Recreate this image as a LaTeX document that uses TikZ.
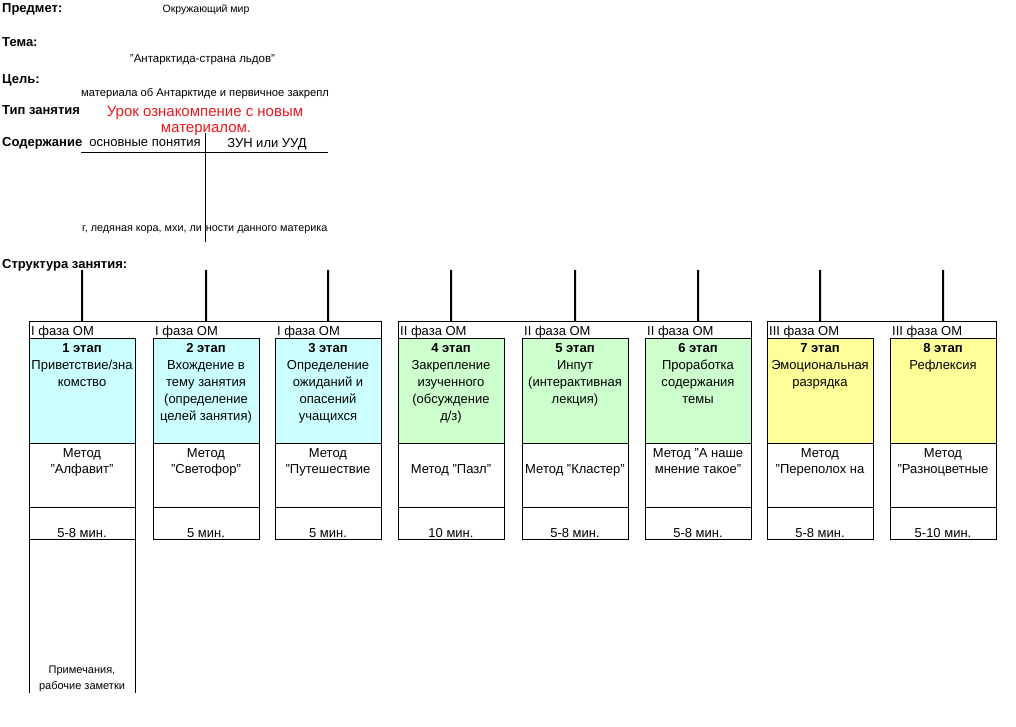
\documentclass[tikz,border=0pt]{standalone}
\usepackage{fontspec}
\setmainfont{Liberation Sans}
\definecolor{cyanbg}{HTML}{CCFFFF}
\definecolor{greenbg}{HTML}{CCFFCC}
\definecolor{yellowbg}{HTML}{FFFF99}
\definecolor{redtxt}{HTML}{E8191E}
\newcommand\stagecell[8]{%
  \node[hdrcell] (h#1) at (#2,321) {};
  \node[phasetxt] (p#1) at (#2+2,335.5) {#3};
  \node[cell, fill=#4, minimum height=105pt] (b#1) at (#2,338) {};
  \node[cell, minimum height=64pt] (m#1) at (#2,443) {};
  \node[cell, minimum height=32pt] (d#1) at (#2,507) {};
  \node[boxtxt] (bt#1) at (#2+53,343.5) {#5};
  \node[boxtxt, font=\fontsize{13}{16}\selectfont] (mt#1) at (#2+53,#8) {#6};
  \node[boxtxt, anchor=base] (dt#1) at (#2+53,537) {#7};
  \coordinate (c#1) at (#2+53,270);
  \draw[conn] (c#1) -- (h#1.north);
}
\begin{document}
\begin{tikzpicture}[x=1pt,y=-1pt,
  lbl/.style={font=\fontsize{13}{16}\selectfont\bfseries, anchor=base west, inner sep=0},
  smalltxt/.style={font=\fontsize{10.5}{13}\selectfont, inner sep=0, anchor=base},
  midtxt/.style={font=\fontsize{13}{16}\selectfont, inner sep=0, anchor=base},
  redt/.style={font=\fontsize{15}{19}\selectfont, text=redtxt, inner sep=0, anchor=base},
  boxtxt/.style={font=\fontsize{13}{17}\selectfont, align=center, inner sep=0, anchor=north},
  phasetxt/.style={font=\fontsize{13}{16}\selectfont, inner sep=0, anchor=base west},
  cell/.style={draw, line width=0.8pt, inner sep=0, minimum width=106pt, anchor=north west},
  hdrcell/.style={inner sep=0, minimum width=106pt, minimum height=17pt, anchor=north west},
  conn/.style={line width=2pt},
  thin/.style={line width=0.8pt}]
\path[use as bounding box, fill=white] (0,0) rectangle (1016,727);

% header labels
\node[lbl] (predmet) at (2,13) {Предмет:};
\node[lbl] (tema) at (2,47) {Тема:};
\node[lbl] (tsel) at (2,83.5) {Цель:};
\node[lbl] (tip) at (2,115) {Тип занятия};
\begin{scope}
  \clip (0,120) rectangle (81,160);
  \node[lbl] (soder) at (2,147) {Содержание};
\end{scope}
\node[lbl] (struct) at (2,268) {Структура занятия:};

\node[smalltxt] (predv) at (206,12.5) {Окружающий мир};
\node[smalltxt, font=\fontsize{11.5}{13}\selectfont] (temav) at (202.5,62.5) {"Антарктида-страна льдов"};
\begin{scope}
  \clip (81,80) rectangle (328,105);
  \node[smalltxt, anchor=base west, font=\fontsize{11.2}{13}\selectfont] (tselv) at (81,97) {материала об Антарктиде и первичное закрепление};
\end{scope}
\node[redt] (red1) at (205,116.5) {Урок ознакомпение с новым};
\node[redt] (red2) at (206,132.5) {материалом.};
\node[midtxt] (osn) at (145,147) {основные понятия};
\node[midtxt] (zun) at (267,147.5) {ЗУН или УУД};
\coordinate (hl1) at (81,152);
\coordinate (hl2) at (328,152);
\draw[thin] (hl1) -- (hl2);
\begin{scope}
  \clip (81,215) rectangle (328,240);
  \node[smalltxt, anchor=base west, font=\fontsize{10.8}{13}\selectfont] (sodv) at (82,231.5) {г, ледяная кора, мхи, ли\hspace{4pt}ности данного материка};
\end{scope}
\coordinate (vl1) at (205,133);
\coordinate (vl2) at (205,242);
\draw[thin] (vl1) -- (vl2);

% stages
\stagecell{1}{29}{I фаза ОМ}{cyanbg}{\textbf{1 этап}\\Приветствие/зна\\комство}{Метод\\"Алфавит"}{5-8 мин.}{448}
\stagecell{2}{153}{I фаза ОМ}{cyanbg}{\textbf{2 этап}\\Вхождение в\\тему занятия\\(определение\\целей занятия)}{Метод\\"Светофор"}{5 мин.}{448}
\stagecell{3}{275}{I фаза ОМ}{cyanbg}{\textbf{3 этап}\\Определение\\ожиданий и\\опасений\\учащихся}{Метод\\"Путешествие}{5 мин.}{448}
\stagecell{4}{398}{II фаза ОМ}{greenbg}{\textbf{4 этап}\\Закрепление\\изученного\\(обсуждение\\д/з)}{Метод "Пазл"}{10 мин.}{464}
\stagecell{5}{522}{II фаза ОМ}{greenbg}{\textbf{5 этап}\\Инпут\\(интерактивная\\лекция)}{Метод "Кластер"}{5-8 мин.}{464}
\stagecell{6}{645}{II фаза ОМ}{greenbg}{\textbf{6 этап}\\Проработка\\содержания\\темы}{Метод "А наше\\мнение такое"}{5-8 мин.}{448}
\stagecell{7}{767}{III фаза ОМ}{yellowbg}{\textbf{7 этап}\\Эмоциональная\\разрядка}{Метод\\"Переполох на}{5-8 мин.}{448}
\stagecell{8}{890}{III фаза ОМ}{yellowbg}{\textbf{8 этап}\\Рефлексия}{Метод\\"Разноцветные}{5-10 мин.}{448}

% group frames
\draw[thin] (h1.south west) -- (h1.north west) -- (h3.north east) -- (h3.south east);
\draw[thin] (h4.south west) -- (h4.north west) -- (h6.north east) -- (h6.south east);
\draw[thin] (h7.south west) -- (h7.north west) -- (h8.north east) -- (h8.south east);

% notes column
\node[hdrcell, minimum height=154pt] (n1) at (29,539) {};
\draw[thin] (n1.north west) -- (n1.south west);
\draw[thin] (n1.north east) -- (n1.south east);
\node[font=\fontsize{11}{16.5}\selectfont, align=center, inner sep=0, anchor=north] (notes) at (82,665.5) {Примечания,\\рабочие заметки};
\end{tikzpicture}
\end{document}
